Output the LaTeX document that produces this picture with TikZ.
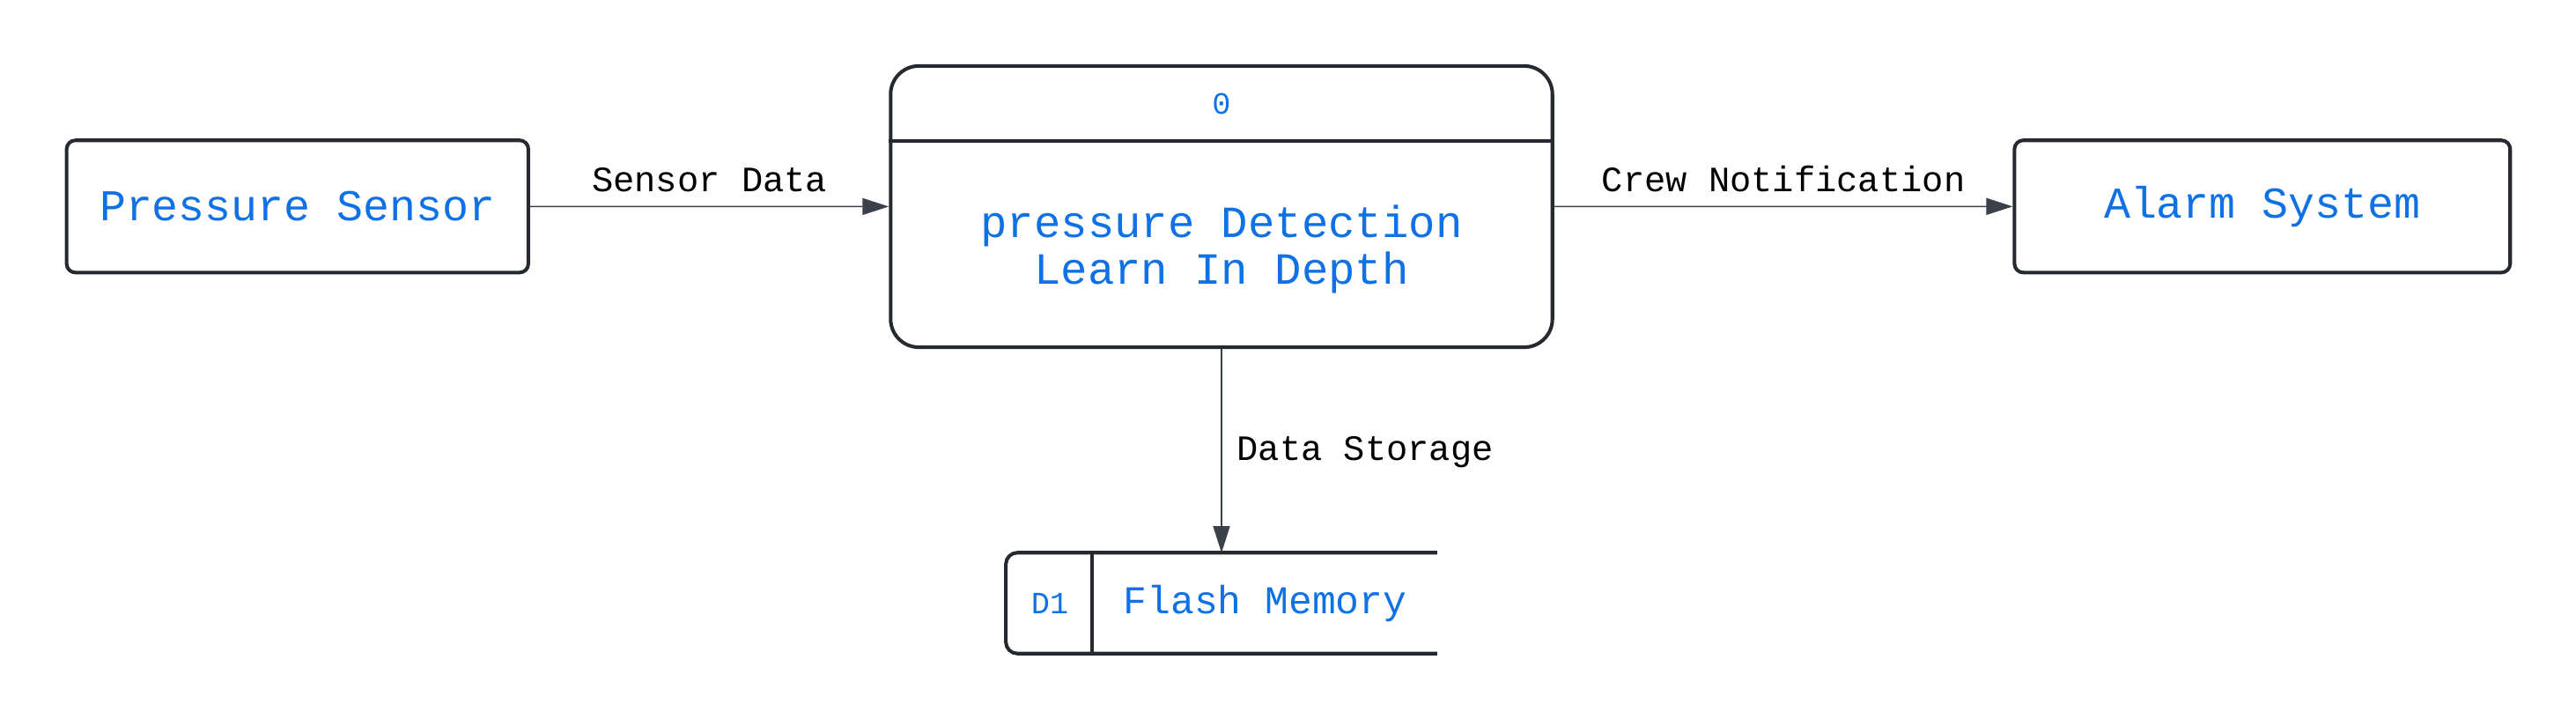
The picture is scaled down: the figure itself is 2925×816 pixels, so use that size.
\documentclass[tikz,border=0pt]{standalone}
\usepackage{fontspec}
\setmonofont{Liberation Mono}
\usetikzlibrary{arrows.meta}
\definecolor{dfdblue}{HTML}{1071E5}
\definecolor{dfdline}{HTML}{262A30}
\definecolor{dfdarrow}{HTML}{3A414A}
\begin{document}
\begin{tikzpicture}[x=0.01cm,y=-0.01cm,
        entity/.style = {draw=dfdline,line width=1.15pt,rounded corners=0.1cm,
            minimum width=5.24cm,minimum height=1.5cm,text=dfdblue,
            font=\ttfamily\fontsize{14.2}{17}\selectfont},
        bigtext/.style = {text=dfdblue,align=center,inner sep=0pt,
            font=\ttfamily\fontsize{14.4}{15.1}\selectfont},
        smalltext/.style = {text=dfdblue,inner sep=0pt,
            font=\ttfamily\fontsize{10}{12}\selectfont},
        flow/.style = {dfdarrow,line width=0.45pt,-{Triangle[length=0.3cm,width=0.19cm]}},
        flowlabel/.style = {text=black,inner sep=0pt,text depth=0pt,
            font=\ttfamily\fontsize{11.5}{14}\selectfont}]
                \useasboundingbox (0,0) rectangle (2925,816);

                % external entities
                \node[entity] (sensor) at (337.8,234.3) {Pressure Sensor};
                \node[entity,minimum width=5.625cm] (alarm) at (2568.8,234.3) {Alarm System};

                % process
                \node[draw=dfdline,line width=1.15pt,rounded corners=0.32cm,
                    minimum width=7.51cm,minimum height=3.19cm] (proc) at (1387,234.5) {};
                \draw[dfdline,line width=1.15pt] 
                    ([yshift=-0.867cm]proc.north west) -- ([yshift=-0.867cm]proc.north east);
                \node[smalltext] (procid) at (1387,118) {0};
                \node[bigtext] (procname) at (1387,283) {pressure Detection\\Learn In Depth};

                % data store
                \node[minimum width=4.88cm,minimum height=1.13cm,inner sep=0pt] 
                    (store) at (1387,684.5) {};
                \draw[dfdline,line width=1.15pt,rounded corners=0.13cm] 
                    (store.north east) -- (store.north west) -- (store.south west) -- (store.south east);
                \draw[dfdline,line width=1.15pt] 
                    ([xshift=0.98cm]store.north west) -- ([xshift=0.98cm]store.south west);
                \node[smalltext] (storeid) at (1192,684.5) {D1};
                \node[smalltext,font=\ttfamily\fontsize{12.7}{15}\selectfont] 
                    (storename) at (1436.5,684.5) {Flash Memory};

                % flows
                \draw[flow] (sensor) -- (proc) 
                    node[flowlabel,midway,above=0.16cm] {Sensor Data};
                \draw[flow] (proc) -- (alarm) 
                    node[flowlabel,midway,above=0.16cm] {Crew Notification};
                \draw[flow,line width=0.3pt] (proc) -- (store) 
                    node[flowlabel,midway,anchor=west,xshift=0.17cm,yshift=0.02cm,text height=0.26cm] {Data Storage};
            \end{tikzpicture}
\end{document}
